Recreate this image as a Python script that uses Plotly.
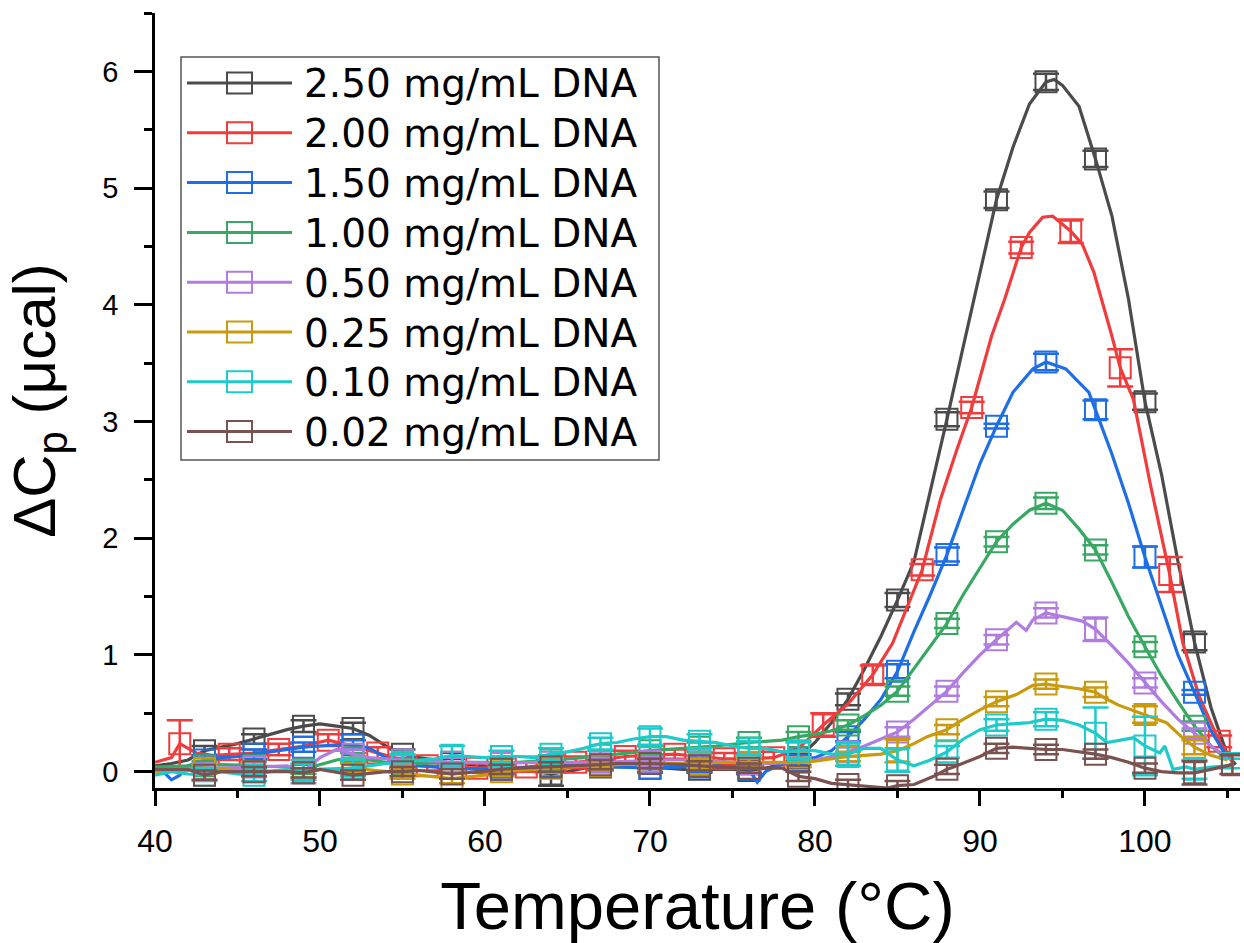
import plotly.graph_objects as go

# ---------------- data ----------------
labels = ["2.50 mg/mL DNA", "2.00 mg/mL DNA", "1.50 mg/mL DNA", "1.00 mg/mL DNA",
          "0.50 mg/mL DNA", "0.25 mg/mL DNA", "0.10 mg/mL DNA", "0.02 mg/mL DNA"]
colors = ["#4b4b4b", "#f03c3c", "#1e6ee6", "#38a862", "#b07ce0", "#c99a0e", "#1ecaca", "#7a5250"]

t_250 = [40, 41, 42, 43, 44, 45, 46, 47, 48, 49, 50, 51, 52, 53, 54, 55, 56, 57, 58, 59, 60, 61, 62, 63, 64,
         65, 66, 67, 68, 69, 70, 71, 72, 73, 74, 75, 76, 77, 78, 79, 80, 81, 82, 83, 84, 85, 86, 87, 88, 89,
         90, 91, 92, 93, 94, 94.5, 95, 96, 97, 98, 99, 100, 101, 102, 103, 104, 105, 105.5]
y_250 = [0.05, 0.07, 0.10, 0.18, 0.21, 0.24, 0.28, 0.32, 0.36, 0.39, 0.41, 0.39, 0.37, 0.31, 0.22, 0.15,
         0.12, 0.10, 0.07, 0.06, 0.05, 0.04, 0.02, 0.00, -0.02, 0.00, 0.03, 0.04, 0.04, 0.04, 0.03, 0.03,
         0.02, 0.02, 0.02, 0.02, 0.01, 0.03, 0.06, 0.12, 0.25, 0.42, 0.62, 0.88, 1.16, 1.47, 1.80, 2.40,
         3.02, 3.65, 4.28, 4.90, 5.35, 5.72, 5.91, 5.93, 5.88, 5.70, 5.25, 4.76, 4.05, 3.17, 2.55, 1.80,
         1.11, 0.55, 0.14, 0.06]

t_200 = [40, 41, 41.5, 42.5, 43.5, 44.5, 46, 47.5, 49, 50.5, 52, 53.5, 55, 56.5, 58, 59.5, 61, 62.5, 64,
         65.5, 67, 68.5, 70, 71.5, 73, 74.5, 76, 77.5, 79, 80.5, 82, 83.5, 84.7, 86.5, 87.6, 88.6, 89.5,
         90.7, 91.5, 92.5, 93, 93.8, 94.4, 95.5, 96.2, 96.9, 98, 98.5, 99.3, 100.3, 101.5, 102.3, 103.3,
         104.5, 105.3]
y_200 = [0.08, 0.12, 0.24, 0.16, 0.14, 0.15, 0.16, 0.19, 0.22, 0.27, 0.22, 0.16, 0.10, 0.05, 0.04, 0.03,
         0.03, 0.04, 0.06, 0.08, 0.10, 0.13, 0.14, 0.15, 0.13, 0.11, 0.11, 0.12, 0.20, 0.40, 0.58, 0.83,
         1.10, 1.73, 2.33, 2.76, 3.12, 3.73, 4.05, 4.49, 4.62, 4.75, 4.76, 4.63, 4.52, 4.28, 3.73, 3.46,
         3.19, 2.48, 1.69, 1.10, 0.64, 0.26, 0.08]

t_150 = [40, 40.5, 41, 41.5, 42, 43, 44, 45, 46, 47, 48, 49, 50, 51, 52, 53, 54, 55, 56, 57, 58, 60, 61,
         62, 64, 66, 67, 68, 70, 72, 73, 74, 75, 75.8, 76, 76.5, 77, 78, 79, 80, 81, 82, 83, 84, 85, 86,
         87, 88, 89, 90, 91, 92, 93.2, 94, 95.2, 96.6, 97, 98, 99, 100, 101, 102, 103, 104, 105]
y_150 = [0.03, 0.00, -0.07, -0.03, 0.05, 0.10, 0.12, 0.13, 0.15, 0.17, 0.19, 0.21, 0.22, 0.23, 0.23, 0.20,
         0.12, 0.07, 0.05, 0.04, 0.03, 0.02, 0.02, 0.03, 0.05, 0.05, 0.05, 0.04, 0.03, 0.04, 0.04, 0.05,
         0.04, 0.03, 0.02, -0.09, 0.00, 0.07, 0.10, 0.12, 0.18, 0.30, 0.45, 0.62, 0.86, 1.20, 1.52, 1.86,
         2.25, 2.64, 2.96, 3.25, 3.45, 3.51, 3.45, 3.25, 3.10, 2.72, 2.30, 1.84, 1.42, 1.00, 0.68, 0.35, 0.12]

t_100 = [40, 42, 43, 44, 46, 48, 49, 50, 51, 52, 53, 54, 55, 56, 58, 60, 61, 62, 64, 66, 67, 68, 70, 72,
         73, 74, 76, 78, 79, 80, 81, 82, 83, 84, 85, 86, 87, 88, 89, 90, 91, 92, 93, 94, 95, 96, 97, 98,
         99, 100, 101, 102, 103, 104, 105]
y_100 = [0.04, 0.05, 0.05, 0.06, 0.05, 0.04, 0.02, 0.06, 0.10, 0.12, 0.10, 0.08, 0.07, 0.07, 0.08, 0.08,
         0.08, 0.08, 0.10, 0.12, 0.14, 0.15, 0.18, 0.20, 0.21, 0.22, 0.25, 0.27, 0.30, 0.32, 0.35, 0.40,
         0.48, 0.57, 0.69, 0.88, 1.07, 1.27, 1.52, 1.75, 1.97, 2.12, 2.24, 2.30, 2.24, 2.08, 1.90, 1.62,
         1.33, 1.07, 0.82, 0.60, 0.39, 0.22, 0.10]

t_050 = [40, 42, 43, 44, 46, 48, 49, 50, 51, 52, 53, 55, 57, 58, 59, 61, 63, 64, 65, 67, 69, 70, 71, 73,
         75, 76, 77, 79, 80, 81, 82, 83, 84, 85, 86, 87, 88, 89, 90, 91, 92.2, 92.8, 93.2, 94, 95.3, 96.2,
         97, 98, 99, 100, 101, 102, 103, 104, 105]
y_050 = [0.02, 0.03, 0.03, 0.03, 0.04, 0.05, 0.00, 0.12, 0.19, 0.15, 0.12, 0.10, 0.09, 0.08, 0.08, 0.07,
         0.08, 0.08, 0.08, 0.08, 0.09, 0.09, 0.10, 0.10, 0.08, 0.07, 0.07, 0.08, 0.10, 0.13, 0.17, 0.22,
         0.28, 0.34, 0.45, 0.57, 0.69, 0.85, 1.00, 1.13, 1.28, 1.21, 1.30, 1.36, 1.32, 1.29, 1.22, 1.08,
         0.93, 0.76, 0.60, 0.45, 0.33, 0.22, 0.12]

t_025 = [40, 42, 43, 44, 46, 48, 49, 50, 52, 54, 55, 56, 58, 60, 61, 62, 64, 66, 67, 68, 70, 72, 73, 74,
         76, 78, 79, 80, 82, 83, 84, 85, 86, 86.8, 88, 89, 90, 91, 92.2, 93.2, 94, 95, 96, 97, 97.7, 98.4,
         100, 101.3, 102.2, 103, 104, 105]
y_025 = [0.00, 0.01, 0.02, 0.02, 0.00, 0.01, -0.01, 0.02, 0.03, 0.00, -0.02, -0.03, -0.06, -0.03, 0.00,
         0.01, 0.03, 0.05, 0.05, 0.06, 0.07, 0.07, 0.07, 0.08, 0.08, 0.08, 0.08, 0.09, 0.13, 0.14, 0.15,
         0.18, 0.24, 0.30, 0.36, 0.45, 0.53, 0.60, 0.66, 0.74, 0.75, 0.73, 0.71, 0.68, 0.62, 0.57, 0.49,
         0.42, 0.30, 0.21, 0.14, 0.10]

t_010 = [40, 41, 42, 43, 44, 45, 46, 47, 48, 49, 50, 51, 52, 53, 54, 55, 56, 57, 58, 59, 60, 61, 62, 63,
         64, 65, 66, 67, 68, 69, 70, 71, 72, 73, 74, 75, 76, 77, 78, 79, 80, 81, 82, 83, 84, 85, 86, 87,
         88, 89, 90, 91, 92, 93, 94, 95, 96, 97, 97.7, 98.4, 99.3, 100, 100.9, 101.2, 101.7, 102.5, 103,
         104, 105, 105.3]
y_010 = [-0.03, 0.00, -0.02, -0.03, 0.00, -0.02, -0.03, 0.00, 0.02, 0.00, 0.02, 0.02, 0.03, 0.05, 0.07,
         0.08, 0.10, 0.11, 0.14, 0.13, 0.12, 0.13, 0.13, 0.12, 0.15, 0.17, 0.20, 0.24, 0.25, 0.28, 0.30,
         0.30, 0.27, 0.26, 0.25, 0.22, 0.20, 0.20, 0.17, 0.18, 0.18, 0.15, 0.15, 0.20, 0.20, 0.10, 0.05,
         0.10, 0.17, 0.28, 0.36, 0.40, 0.41, 0.42, 0.45, 0.44, 0.40, 0.33, 0.25, 0.27, 0.29, 0.22, 0.16,
         0.22, 0.02, 0.04, 0.02, 0.04, 0.05, 0.07]

t_002 = [40, 42, 43, 44, 46, 48, 49, 50, 52, 54, 55, 56, 58, 60, 61, 62, 64, 66, 67, 68, 70, 72, 73, 74,
         76, 77, 78, 79, 80, 81, 82, 83, 84.4, 85, 86, 87.2, 88, 88.4, 90, 91, 92, 93, 94, 95, 96, 97, 98,
         99, 100, 101, 102, 103, 104, 105, 105.3]
y_002 = [0.02, 0.02, -0.03, 0.00, 0.00, 0.00, -0.01, 0.02, -0.03, 0.00, 0.00, 0.01, -0.02, 0.01, 0.02,
         0.03, 0.04, 0.05, 0.06, 0.07, 0.07, 0.06, 0.05, 0.04, 0.03, 0.03, 0.03, -0.04, -0.06, -0.10, -0.11,
         -0.12, -0.14, -0.12, -0.11, -0.04, 0.02, 0.04, 0.13, 0.20, 0.21, 0.20, 0.19, 0.19, 0.17, 0.15,
         0.12, 0.08, 0.03, 0.00, -0.01, -0.01, 0.02, 0.05, 0.06]

# marker temperatures (every 3 degC) and error-bar half heights
m_std = [43, 46, 49, 52, 55, 58, 61, 64, 67, 70, 73, 76, 79, 82, 85, 88, 91, 94, 97, 100, 103]
m_red = [41.5, 44.5, 47.5, 50.5, 53.5, 56.5, 59.5, 62.5, 65.5, 68.5, 71.5, 74.5, 77.5, 80.5, 83.5, 86.5,
         89.5, 92.5, 95.5, 98.5, 101.5, 104.5]
m_cyan = m_std + [105.3]
m_brown = m_std + [105.3]

e_250 = [0.04, 0.04, 0.05, 0.05, 0.04, 0.04, 0.04, 0.10, 0.03, 0.03, 0.03, 0.03, 0.03, 0.05, 0.06, 0.06,
         0.07, 0.07, 0.07, 0.07, 0.07]
e_200 = [0.20, 0.05, 0.05, 0.05, 0.05, 0.04, 0.04, 0.04, 0.05, 0.05, 0.04, 0.05, 0.05, 0.10, 0.08, 0.05,
         0.05, 0.05, 0.10, 0.16, 0.15, 0.05]
e_150 = [0.04, 0.04, 0.04, 0.04, 0.04, 0.04, 0.04, 0.04, 0.04, 0.04, 0.04, 0.04, 0.04, 0.04, 0.06, 0.06,
         0.02, 0.07, 0.08, 0.09, 0.02]
e_100 = [0.04, 0.04, 0.04, 0.04, 0.04, 0.04, 0.04, 0.04, 0.04, 0.04, 0.04, 0.04, 0.04, 0.04, 0.04, 0.04,
         0.04, 0.05, 0.04, 0.04, 0.04]
e_050 = [0.04, 0.04, 0.10, 0.04, 0.04, 0.04, 0.04, 0.04, 0.04, 0.04, 0.04, 0.04, 0.04, 0.04, 0.04, 0.04,
         0.04, 0.04, 0.10, 0.04, 0.04]
e_025 = [0.04, 0.04, 0.04, 0.04, 0.04, 0.04, 0.04, 0.04, 0.04, 0.04, 0.04, 0.04, 0.04, 0.04, 0.10, 0.04,
         0.04, 0.04, 0.04, 0.07, 0.06]
e_010 = [0.05, 0.05, 0.07, 0.07, 0.07, 0.08, 0.05, 0.05, 0.05, 0.07, 0.06, 0.06, 0.07, 0.10, 0.10, 0.05,
         0.05, 0.06, 0.22, 0.25, 0.08, 0.04]
e_002 = [0.04, 0.04, 0.04, 0.04, 0.04, 0.04, 0.04, 0.04, 0.04, 0.04, 0.04, 0.04, 0.04, 0.04, 0.04, 0.04,
         0.04, 0.04, 0.04, 0.04, 0.10, 0.08]

series = [
    (t_250, y_250, m_std, e_250),
    (t_200, y_200, m_red, e_200),
    (t_150, y_150, m_std, e_150),
    (t_100, y_100, m_std, e_100),
    (t_050, y_050, m_std, e_050),
    (t_025, y_025, m_std, e_025),
    (t_010, y_010, m_cyan, e_010),
    (t_002, y_002, m_brown, e_002),
]

# ---------------- figure ----------------
W, H = 1244, 943
ML, MR, MT, MB = 155, 4, 13, 155
FONT = "Liberation Sans, Arial, sans-serif"

fig = go.Figure()
for (t, y, mt, me), col, lab in zip(series, colors, labels):
    lookup = dict(zip(t, y))
    my = [lookup[v] for v in mt]
    fig.add_trace(go.Scatter(x=t, y=y, mode="lines", name=lab, showlegend=False,
                             line=dict(color=col, width=3.2)))
    fig.add_trace(go.Scatter(x=mt, y=my, mode="markers", name=lab, showlegend=False,
                             marker=dict(symbol="square-open", size=21, color=col,
                                         line=dict(color=col, width=2)),
                             error_y=dict(type="data", array=me, visible=True, color=col,
                                          thickness=2.5, width=13)))


def px(x):
    return (x - ML) / (W - ML - MR)


def py(y):
    return (H - MB - y) / (H - MT - MB)


shapes = [dict(type="rect", xref="paper", yref="paper", x0=px(181), x1=px(659), y0=py(460), y1=py(57),
               line=dict(color="#555555", width=1.5), fillcolor="white", layer="above")]
annotations = []
for i, (col, lab) in enumerate(zip(colors, labels)):
    yc = 83 + 49.8 * i
    shapes.append(dict(type="line", xref="paper", yref="paper", x0=px(187), x1=px(292),
                       y0=py(yc), y1=py(yc), line=dict(color=col, width=3), layer="above"))
    shapes.append(dict(type="rect", xref="paper", yref="paper", x0=px(227), x1=px(252),
                       y0=py(yc + 10.5), y1=py(yc - 10.5), line=dict(color=col, width=2),
                       layer="above"))
    annotations.append(dict(xref="paper", yref="paper", x=px(302), y=py(yc + 1), text=lab,
                            showarrow=False, xanchor="left", yanchor="middle",
                            font=dict(family="DejaVu Sans", size=39, color="black")))

fig.update_layout(
    width=W, height=H, margin=dict(l=ML, r=MR, t=MT, b=MB, pad=0),
    paper_bgcolor="white", plot_bgcolor="white", showlegend=False,
    font=dict(family=FONT, color="black"),
    shapes=shapes, annotations=annotations,
)
fig.update_xaxes(range=[40, 105.76], tick0=40, dtick=10, ticks="outside", ticklen=15, tickwidth=2.5,
                 tickcolor="black", minor=dict(dtick=5, ticks="outside", ticklen=7, tickwidth=2.5,
                                               tickcolor="black"),
                 showline=True, linewidth=2.5, linecolor="black", showgrid=False, zeroline=False,
                 tickfont=dict(family=FONT, size=32), ticklabelstandoff=8,
                 title=dict(text="Temperature (°C)", font=dict(family=FONT, size=67), standoff=32))
fig.update_yaxes(range=[-0.14, 6.5], tick0=0, dtick=1, ticks="outside", ticklen=18, tickwidth=2.5,
                 tickcolor="black", minor=dict(dtick=0.5, ticks="outside", ticklen=8, tickwidth=2.5,
                                               tickcolor="black"),
                 showline=True, linewidth=2.5, linecolor="black", showgrid=False, zeroline=False,
                 tickfont=dict(family=FONT, size=29), ticklabelstandoff=10,
                 title=dict(text="ΔC<sub>p</sub> (μcal)", font=dict(family=FONT, size=60), standoff=28))

fig.write_html("out.html")
